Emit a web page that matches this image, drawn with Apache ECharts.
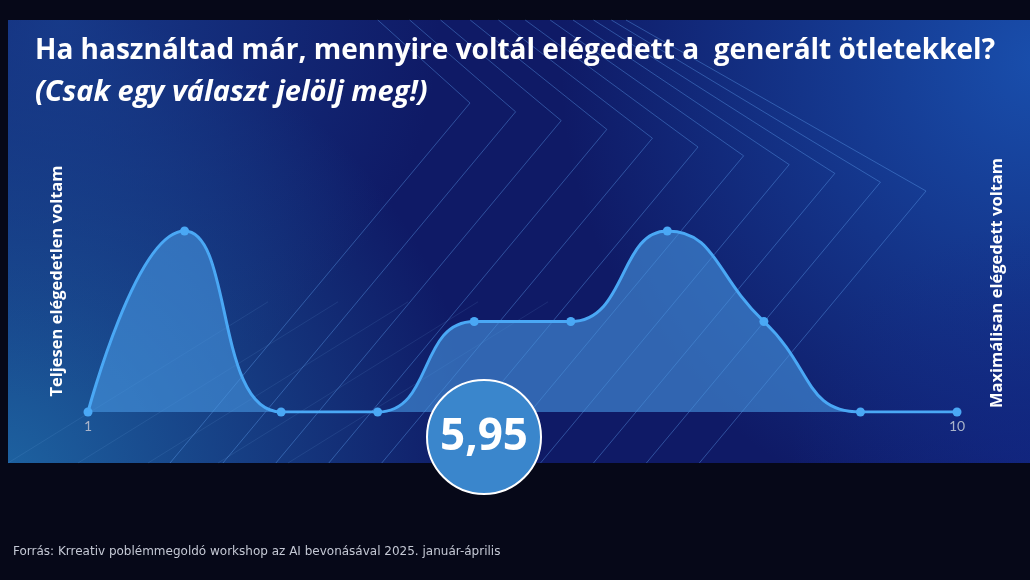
<!DOCTYPE html>
<html>
<head>
<meta charset="utf-8">
<script src="https://cdn.jsdelivr.net/npm/echarts@6/dist/echarts.min.js"></script>
<style>
html,body{margin:0;padding:0;background:#060818;}
#chart{width:1030px;height:580px;}
</style>
</head>
<body>
<div id="chart"></div>
<script>
const categories = ['1','2','3','4','5','6','7','8','9','10'];
const values = [0, 2, 0, 0, 1, 1, 2, 1, 0, 0];
const shownTickLabels = ['1', '10'];
const titleText = 'Ha használtad már, mennyire voltál elégedett a  generált ötletekkel?';
const subtitleText = '(Csak egy választ jelölj meg!)';
const leftLabel = 'Teljesen elégedetlen voltam';
const rightLabel = 'Maximálisan elégedett voltam';
const averageText = '5,95';
const sourceText = 'Forrás: Krreativ poblémmegoldó workshop az AI bevonásával 2025. január-április';

const chart = echarts.init(document.getElementById('chart'), null, {renderer: 'canvas'});

// decorative chevron lines in the background panel
const deco = [];
const PT = 20, PB = 463;
for (let i = 0; i <= 10; i++) {
  const vx = 470 + 45.6 * i, vy = 103 + 8.8 * i;
  const up = 0.9 - 0.033 * i;
  const lo = 1.2;
  deco.push({
    type: 'polyline', silent: true, z: 1,
    shape: {points: [[vx - (vy - PT) / up, PT], [vx, vy], [vx - (PB - vy) / lo, PB]]},
    style: {fill: null, stroke: 'rgba(95,160,240,0.4)', lineWidth: 1}
  });
}
for (let j = 0; j < 5; j++) {
  const x0 = 8 + j * 70, y0 = PB;
  const len = 260;
  deco.push({
    type: 'line', silent: true, z: 1,
    shape: {x1: x0, y1: y0, x2: x0 + len, y2: y0 - len * 0.62},
    style: {stroke: 'rgba(120,180,240,0.12)', lineWidth: 1}
  });
}

const panel = {x: 8, y: 20, width: 1022, height: 443};
function glow(cx, cy, r, rgb, a) {
  return {type: 'rect', silent: true, z: 0, shape: panel,
    style: {fill: {type: 'radial', x: cx, y: cy, r: r, global: true, colorStops: [
      {offset: 0, color: 'rgba(' + rgb + ',' + a + ')'},
      {offset: 1, color: 'rgba(' + rgb + ',0)'}]}}};
}

chart.setOption({
  backgroundColor: '#060818',
  animation: false,
  grid: {left: 88, right: 73, top: 231, bottom: 168, containLabel: false},
  xAxis: {
    type: 'category', data: categories, boundaryGap: false,
    axisLine: {show: false}, axisTick: {show: false}, splitLine: {show: false},
    axisLabel: {
      color: '#a9b3c9', fontSize: 14, fontFamily: 'Lato', margin: 7,
      interval: 0,
      formatter: v => shownTickLabels.includes(v) ? v : ''
    }
  },
  yAxis: {type: 'value', min: 0, max: 2, show: false},
  series: [{
    type: 'line', data: values, smooth: true, z: 5,
    symbol: 'circle', symbolSize: 9,
    itemStyle: {color: '#4aa8f5'},
    lineStyle: {color: '#4aa8f5', width: 3},
    areaStyle: {color: 'rgba(72,152,226,0.86)'}
  }],
  graphic: [
    {type: 'rect', silent: true, z: 0, shape: panel, style: {fill: '#0f1a66'}},
    glow(0, 480, 480, '32,112,172', 0.85),
    glow(60, 20, 380, '26,70,150', 0.7),
    glow(1040, 60, 480, '26,84,180', 0.9),
    glow(1040, 470, 250, '18,40,140', 0.5),
    ...deco,
    {type: 'text', z: 10, left: 35, top: 37,
      style: {text: titleText, fill: '#ffffff', font: 'bold 28px "Open Sans"'}},
    {type: 'text', z: 10, left: 35, top: 78,
      style: {text: subtitleText, fill: '#ffffff', font: 'italic bold 29px "Open Sans"'}},
    {type: 'text', z: 10, x: 57, y: 281, rotation: Math.PI / 2,
      style: {text: leftLabel, fill: '#ffffff', font: 'bold 16.5px "Open Sans"', align: 'center', verticalAlign: 'middle'}},
    {type: 'text', z: 10, x: 997, y: 283, rotation: Math.PI / 2,
      style: {text: rightLabel, fill: '#ffffff', font: 'bold 16.5px "Open Sans"', align: 'center', verticalAlign: 'middle'}},
    {type: 'circle', z: 20, shape: {cx: 484, cy: 437, r: 57},
      style: {fill: '#3a86cc', stroke: '#ffffff', lineWidth: 2}},
    {type: 'text', z: 21, x: 484, y: 437,
      style: {text: averageText, fill: '#ffffff', font: 'bold 44px "Open Sans"', align: 'center', verticalAlign: 'middle'}},
    {type: 'text', z: 10, left: 13, top: 546,
      style: {text: sourceText, fill: '#c4c8d4', font: '12px "DejaVu Sans"'}}
  ]
});
</script>
</body>
</html>
